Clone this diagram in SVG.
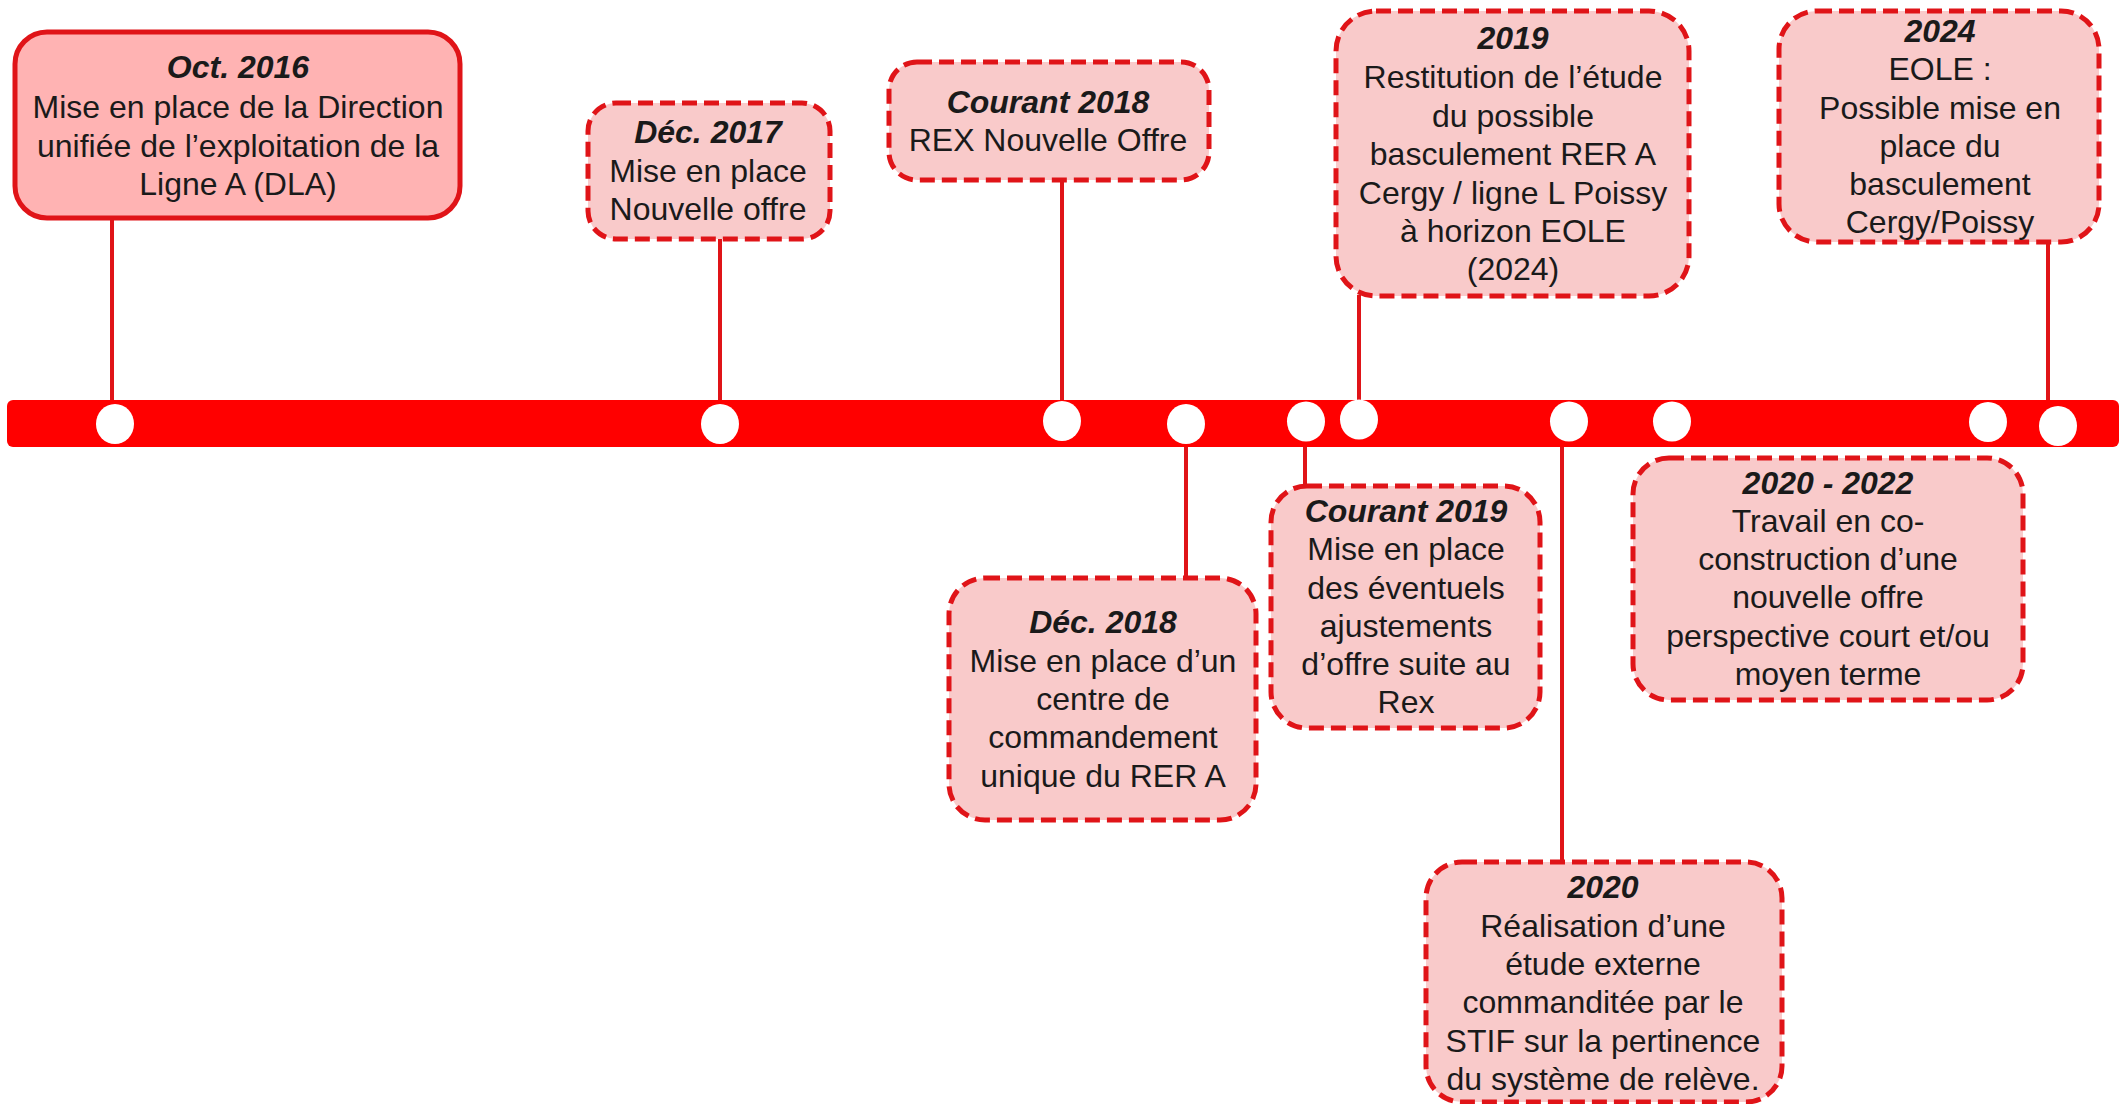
<svg xmlns="http://www.w3.org/2000/svg" width="2125" height="1104" viewBox="0 0 2125 1104">
<style>
.bg{fill:#ffffff}
.box{fill:#F9CACA;stroke:#E01418;stroke-width:5;stroke-dasharray:15 7}
.solid{fill:#FFB3B3;stroke:#E01418;stroke-width:5}
.conn{stroke:#E01418;stroke-width:4;fill:none}
text{font-family:"Liberation Sans",Arial,sans-serif;font-size:32px;fill:#1a1a1a;text-anchor:middle}
.t{font-weight:bold;font-style:italic}
.dot{fill:#ffffff}
</style>
<rect class="bg" x="0" y="0" width="2125" height="1104"/>
<g id="connectors">
<line class="conn" x1="112" y1="218" x2="112" y2="402"/>
<line class="conn" x1="720" y1="239" x2="720" y2="402"/>
<line class="conn" x1="1062" y1="180" x2="1062" y2="402"/>
<line class="conn" x1="1186" y1="446" x2="1186" y2="579"/>
<line class="conn" x1="1305" y1="446" x2="1305" y2="487"/>
<line class="conn" x1="1359" y1="295" x2="1359" y2="402"/>
<line class="conn" x1="1562" y1="446" x2="1562" y2="862"/>
<line class="conn" x1="2048" y1="241" x2="2048" y2="402"/>
</g>
<g id="timeline">
<rect x="7" y="400" width="2112" height="47" rx="6" fill="#FF0000"/>
<ellipse class="dot" cx="115" cy="424" rx="19" ry="20"/>
<ellipse class="dot" cx="720" cy="424" rx="19" ry="20"/>
<ellipse class="dot" cx="1062" cy="421" rx="19" ry="20"/>
<ellipse class="dot" cx="1186" cy="424" rx="19" ry="20"/>
<ellipse class="dot" cx="1306" cy="421.5" rx="19" ry="20"/>
<ellipse class="dot" cx="1359" cy="419.5" rx="19" ry="20"/>
<ellipse class="dot" cx="1569" cy="421.5" rx="19" ry="20"/>
<ellipse class="dot" cx="1672" cy="421.5" rx="19" ry="20"/>
<ellipse class="dot" cx="1988" cy="422" rx="19" ry="20"/>
<ellipse class="dot" cx="2058" cy="426" rx="19" ry="20"/>
</g>
<g id="n2016">
<rect class="solid" x="15" y="32" width="445" height="186" rx="32"/>
<text class="t" x="238" y="78">Oct. 2016</text>
<text x="238" y="118">Mise en place de la Direction</text>
<text x="238" y="157">unifiée de l’exploitation de la</text>
<text x="238" y="195">Ligne A (DLA)</text>
</g>
<g id="n2017">
<rect class="box" x="588" y="103" width="242" height="136" rx="28"/>
<text class="t" x="708" y="143">Déc. 2017</text>
<text x="708" y="182">Mise en place</text>
<text x="708" y="220">Nouvelle offre</text>
</g>
<g id="n2018c">
<rect class="box" x="889" y="62" width="320" height="118" rx="28"/>
<text class="t" x="1048" y="113">Courant 2018</text>
<text x="1048" y="151">REX Nouvelle Offre</text>
</g>
<g id="n2019">
<rect class="box" x="1336" y="11" width="353" height="285" rx="40"/>
<text class="t" x="1513" y="49">2019</text>
<text x="1513" y="88">Restitution de l’étude</text>
<text x="1513" y="127">du possible</text>
<text x="1513" y="165">basculement RER A</text>
<text x="1513" y="204">Cergy / ligne L Poissy</text>
<text x="1513" y="242">à horizon EOLE</text>
<text x="1513" y="280">(2024)</text>
</g>
<g id="n2024">
<rect class="box" x="1779" y="11" width="320" height="231" rx="38"/>
<text class="t" x="1940" y="42">2024</text>
<text x="1940" y="80">EOLE :</text>
<text x="1940" y="119">Possible mise en</text>
<text x="1940" y="157">place du</text>
<text x="1940" y="195">basculement</text>
<text x="1940" y="233">Cergy/Poissy</text>
</g>
<g id="n2018d">
<rect class="box" x="949" y="578" width="307" height="242" rx="36"/>
<text class="t" x="1103" y="633">Déc. 2018</text>
<text x="1103" y="672">Mise en place d’un</text>
<text x="1103" y="710">centre de</text>
<text x="1103" y="748">commandement</text>
<text x="1103" y="787">unique du RER A</text>
</g>
<g id="n2019c">
<rect class="box" x="1271" y="486" width="269" height="242" rx="36"/>
<text class="t" x="1406" y="522">Courant 2019</text>
<text x="1406" y="560">Mise en place</text>
<text x="1406" y="599">des éventuels</text>
<text x="1406" y="637">ajustements</text>
<text x="1406" y="675">d’offre suite au</text>
<text x="1406" y="713">Rex</text>
</g>
<g id="n2020">
<rect class="box" x="1426" y="862" width="356" height="240" rx="36"/>
<text class="t" x="1603" y="898">2020</text>
<text x="1603" y="937">Réalisation d’une</text>
<text x="1603" y="975">étude externe</text>
<text x="1603" y="1013">commanditée par le</text>
<text x="1603" y="1052">STIF sur la pertinence</text>
<text x="1603" y="1090">du système de relève.</text>
</g>
<g id="n2022">
<rect class="box" x="1633" y="458" width="390" height="242" rx="36"/>
<text class="t" x="1828" y="494">2020 - 2022</text>
<text x="1828" y="532">Travail en co-</text>
<text x="1828" y="570">construction d’une</text>
<text x="1828" y="608">nouvelle offre</text>
<text x="1828" y="647">perspective court et/ou</text>
<text x="1828" y="685">moyen terme</text>
</g>
</svg>
